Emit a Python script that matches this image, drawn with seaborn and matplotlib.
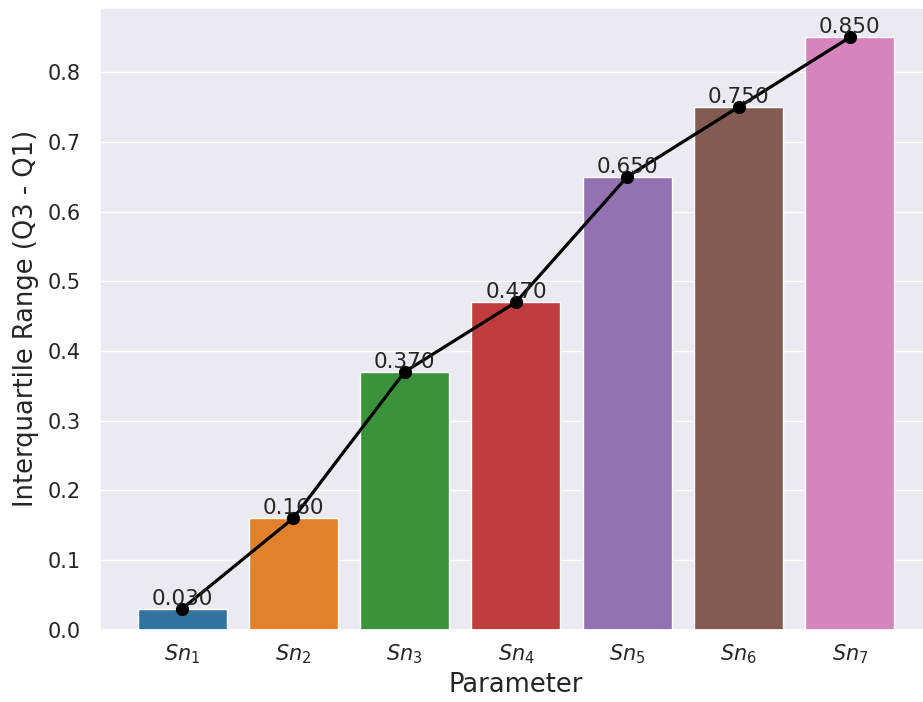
import matplotlib
matplotlib.use("Agg")
import matplotlib.pyplot as plt
import seaborn as sns
import pandas as pd

# data
params = ["$Sn_1$", "$Sn_2$", "$Sn_3$", "$Sn_4$", "$Sn_5$", "$Sn_6$", "$Sn_7$"]
iqr = [0.03, 0.16, 0.37, 0.47, 0.65, 0.75, 0.85]

df = pd.DataFrame({"Parameter": params, "IQR": iqr})

sns.set_theme(style="darkgrid")
plt.rcParams["xtick.labelsize"] = 15
plt.rcParams["ytick.labelsize"] = 15
plt.rcParams["ytick.major.pad"] = 7.5
plt.rcParams["axes.labelsize"] = 18.5

fig, ax = plt.subplots(figsize=(9.23, 7.02), dpi=100)
sns.barplot(data=df, x="Parameter", y="IQR", hue="Parameter", palette="tab10", legend=False, ax=ax)
ax.plot(range(len(iqr)), iqr, color="black", marker="o", linewidth=2.3, markersize=8.5)

# value labels on top of bars
for i, v in enumerate(iqr):
    ax.text(i, v, f"{v:.3f}", ha="center", va="bottom", fontsize=15.5, color="#262626")

ax.set_xlabel("Parameter")
ax.set_ylabel("Interquartile Range (Q3 - Q1)", labelpad=6)

fig.subplots_adjust(left=0.108, right=1.01, top=0.989, bottom=0.103)
fig.savefig("out.png", dpi=100)
